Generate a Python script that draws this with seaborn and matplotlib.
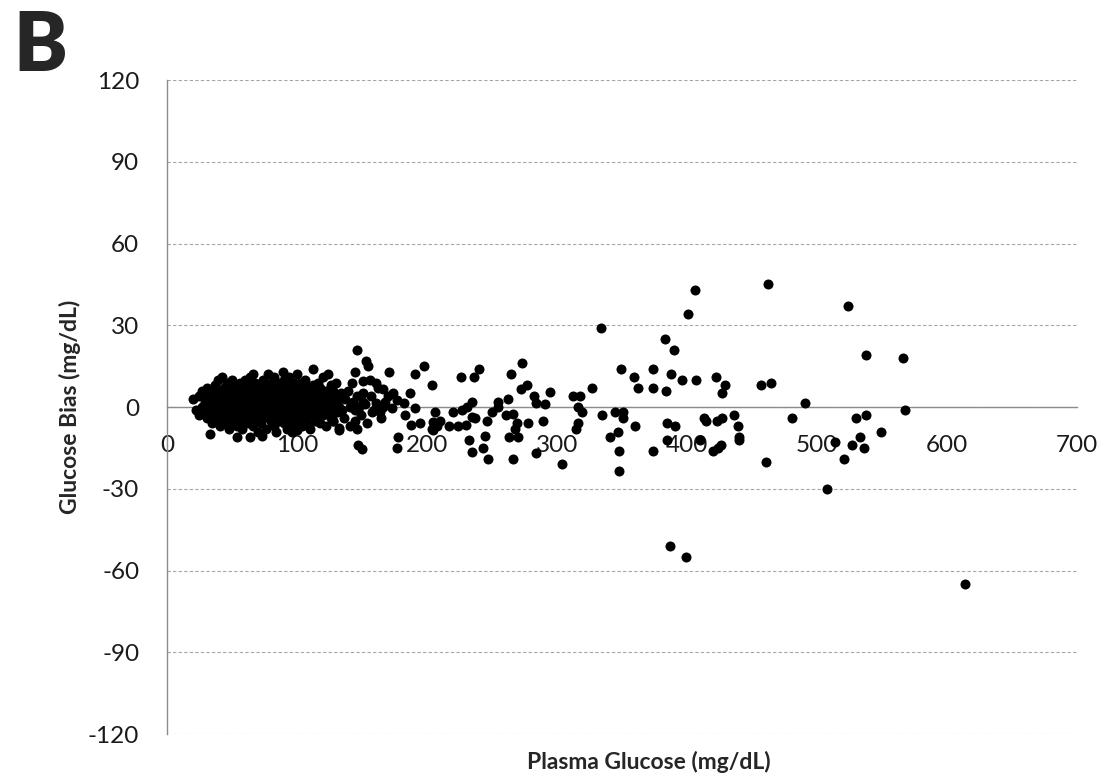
import matplotlib
matplotlib.use("Agg")
import matplotlib.pyplot as plt
import pandas as pd
import seaborn as sns

# Dense cluster below ~135 mg/dL: plasma glucose -> bias values
LOW_RANGE = {
    20: [3], 22: [-1], 25: [4, -3], 27: [0, 6], 29: [-2, 2, 5],
    31: [1, -4, 7], 33: [-10, 3, -1, 5], 35: [0, -3, 2, 6, -6],
    37: [4, -2, 1, 8], 39: [-5, 0, 3, 10, -1], 41: [2, -3, 6, 0, -7],
    42: [11, 4], 44: [-1, 3, -4, 7, 1], 46: [0, 5, -2, 9, -6],
    48: [2, -3, 4, -8, 7, 1], 50: [-1, 3, 6, -5, 0, 10],
    52: [2, -2, 5, -4, 8, 0], 54: [-11, 1, 4, -3, 6, -7],
    56: [0, 3, -1, 9, -5, 2], 58: [5, -2, 1, 7, -8, 3],
    60: [-4, 0, 4, 10, -1, 6], 62: [2, -6, 8, -2, 1, 5],
    64: [-11, 3, 0, -3, 6, 11], 66: [12, 1, -1, 4, -7, 7],
    68: [-2, 2, 5, 0, -5, 9], 70: [3, -1, 6, -9, 1, 4],
    72: [0, 8, -3, 2, -6, 5], 73: [-10.6, 3], 74: [1, -2, 7, 4, 10, -4],
    76: [-1, 3, 0, 6, -8, 2], 78: [12, 5, -3, 1, 8, -1],
    80: [2, -5, 4, 0, 9, -2], 82: [6, -1, 3, -7, 1, 11],
    84: [-3, 2, 7, 0, 4, -9], 86: [1, 5, -2, 9, 3, -5],
    88: [4, -1, 0, 6, -4, 2], 89: [13, 8], 90: [-2, 3, 7, -6, 1, 10],
    92: [0, 5, -3, 2, 8, -8], 94: [6, -1, 3, -5, 11, 1],
    96: [-4, 2, 0, 7, 4, -9], 98: [3, -2, 9, 1, -6, 5],
    100: [12, -8.5, 0, 4, -3, 7, 2], 102: [1, -1, 6, -5, 3, 9],
    104: [-2, 4, 0, 8, -7, 2], 106: [5, -4, 1, 10, -1, 3],
    108: [0, 7, -3, 2, -6, 4], 110: [3, -1, 6, -8, 1],
    112: [14, 0, 4, -3, 8], 114: [-2, 2, 6, -5, 1], 116: [3, -1, 9, 0, -4],
    118: [5, -2, 1, 7, -6], 120: [0, 4, -3, 11, 2], 122: [-1, 6, 3, -7],
    124: [12, 2, -2, 5], 126: [0, -4, 8, 3], 128: [-5, 1, 6],
    130: [2, -2, 9, 4], 132: [-7.8, 0, 3], 134: [5, -1],
}

# (plasma glucose, bias) pairs, 135-300 mg/dL
MID_RANGE = [
    (146, 21), (153, 17), (155, 15), (145, 13), (171, 13), (191, 12), (198, 15),
    (204, 8), (142, 9), (151, 9.5), (161, 9), (162, 7), (166, 6.5), (137, 3),
    (146, 4), (151, 5), (151, 2), (187, 5), (170, 4), (177, 2.5), (182, 1.5),
    (161, 1.5), (166, 0), (158, -2), (164, -2), (173, -0.5), (191, -0.4),
    (131, -2), (135, -1), (128, -5), (141, 0), (145, -1), (148, 0), (188, -6.6),
    (165, -4), (145, -5), (132, -8.5), (146, -8), (205, -5.5), (204, -8),
    (147, -14), (150, -15.5), (178, -11), (177, -15), (139, 6), (143, 2),
    (149, -3), (154, -6), (157, 4), (159, -1), (136, -4), (141, -7), (152, 1),
    (156, 10), (168, 2), (174, 5), (183, -3), (195, -6),
    (273, 16), (240, 14), (236, 11), (226, 11), (265, 12), (277, 8), (272, 6.5),
    (282, 4), (284, 1.5), (291, 1), (295, 5.5), (262, 3), (255, 2), (255, 0),
    (235, 2), (231, 0), (227, -1), (220, -2), (206, -2), (210, -5), (208, -7),
    (205, -8.5), (235, -3.5), (237, -4), (250, -2), (261, -3), (266, -2.5),
    (246, -5), (217, -7), (224, -7), (230, -6.6), (269, -6), (268, -8),
    (278, -6), (289, -5), (245, -10.6), (263, -11), (270, -11), (232, -12),
    (235, -16.5), (243, -15), (247, -19), (266, -19), (284, -17),
]

# (plasma glucose, bias) pairs, above 300 mg/dL
HIGH_RANGE = [
    (304, -21), (312, 4), (318, 4), (316, 0), (319, -2), (316, -6), (315, -8),
    (327, 7), (334, 29), (335, -3), (341, -11), (345, -2), (351, -2), (351, -4),
    (347, -9), (348, -16), (348, -23.5), (349, 14), (359, 11), (362, 7),
    (360, -7), (374, 14), (374, 7), (374, -16), (383, 25), (390, 21), (384, 6),
    (388, 12), (396, 10), (385, -6), (391, -7), (385, -12), (387, -51),
    (399, -55), (401, 34), (406, 43), (407, 10), (410, -12), (413, -4),
    (415, -5), (422, 11), (429, 8), (427, 5), (420, -16), (424, -15), (426, -14),
    (423, -5), (427, -4), (436, -3), (439, -7), (440, -11), (440, -12),
    (462, 45), (524, 37), (538, 19), (566, 18), (457, 8), (465, 9), (491, 1.5),
    (481, -4), (461, -20), (508, -30), (514, -13), (521, -19), (527, -14),
    (530, -4), (538, -3), (533, -11), (536, -15), (549, -9), (568, -1),
    (614, -65),
]

X_TICKS = [0, 100, 200, 300, 400, 500, 600, 700]
Y_TICKS = [-120, -90, -60, -30, 0, 30, 60, 90, 120]

rows = [(x, y) for x, ys in LOW_RANGE.items() for y in ys]
rows += MID_RANGE + HIGH_RANGE
df = pd.DataFrame(rows, columns=["plasma", "bias"])

sns.set_style("white")
plt.rcParams["font.family"] = ["Lato", "DejaVu Sans"]
plt.rcParams["axes.unicode_minus"] = False

fig, ax = plt.subplots(figsize=(11.16, 7.77), dpi=100)
fig.subplots_adjust(left=0.1496, right=0.965, top=0.897, bottom=0.0553)

sns.scatterplot(data=df, x="plasma", y="bias", color="black", s=52,
                linewidth=0, legend=False, ax=ax, zorder=3)

ax.set_xlim(0, 700)
ax.set_ylim(-120, 120)
ax.set_xticks(X_TICKS)
ax.set_yticks(Y_TICKS)
ax.grid(axis="y", linestyle=(0, (3, 2)), color="#a6a6a6", linewidth=0.8)
ax.set_axisbelow(True)

for side in ["top", "right"]:
    ax.spines[side].set_visible(False)
ax.spines["bottom"].set_position(("data", 0))
ax.spines["bottom"].set_color("#8c8c8c")
ax.spines["left"].set_color("#8c8c8c")
ax.spines["bottom"].set_linewidth(1.0)
ax.spines["left"].set_linewidth(1.0)

ax.tick_params(axis="x", length=0, pad=20, labelsize=17.5, colors="#1a1a1a")
ax.tick_params(axis="y", length=0, pad=20, labelsize=17.5, colors="#1a1a1a")

ax.set_xlabel("Plasma Glucose (mg/dL)", fontsize=16.5, fontweight="bold")
ax.xaxis.set_label_coords(0.53, -0.0428)
ax.xaxis.label.set_va("center")
ax.set_ylabel("Glucose Bias (mg/dL)", fontsize=16.5, fontweight="bold")
ax.yaxis.set_label_coords(-0.1066, 0.5)
ax.yaxis.label.set_va("center")

fig.text(0.0117, 0.908, "B", fontsize=58, fontweight="heavy", ha="left", va="baseline")

plt.savefig("out.png", dpi=100)
plt.close()
